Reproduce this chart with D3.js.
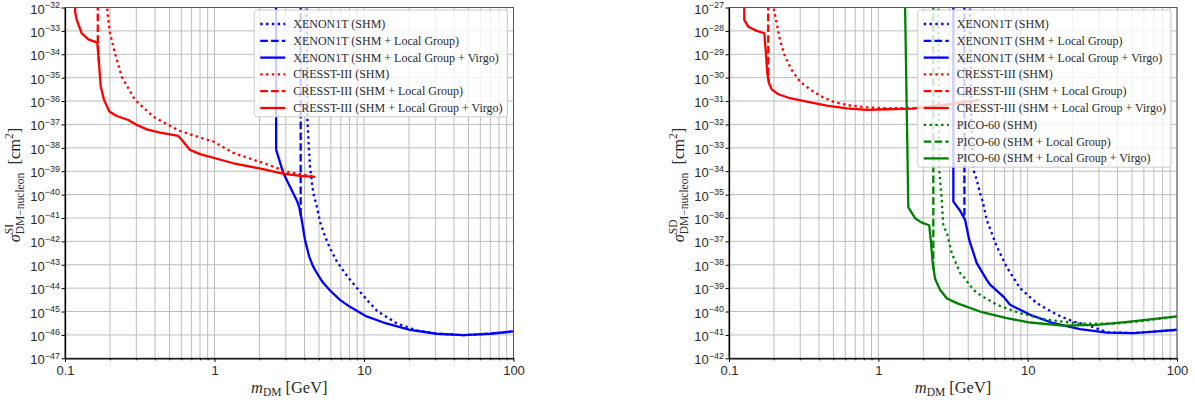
<!DOCTYPE html>
<html>
<head>
<meta charset="utf-8">
<script src="https://cdnjs.cloudflare.com/ajax/libs/d3/7.8.5/d3.min.js"></script>
<style>
  html, body { margin: 0; padding: 0; background: #fff; }
  svg { display: block; font-family: "Liberation Serif", "Times New Roman", serif; }
</style>
</head>
<body>
<svg id="chart" width="1195" height="403"></svg>
<script>
// every curve: [mass in GeV, log10(cross section / cm^2)]

// spin-independent panel
const xenonSI_shm = [[4.14, -31.8], [4.18, -36.81], [4.35, -38.8], [4.58, -39.94], [4.83, -40.5],
  [5.1, -41.2], [5.5, -41.8], [5.93, -42.3], [6.57, -42.85], [7.27, -43.25], [7.85, -43.55],
  [9.4, -44.15], [10.8, -44.6], [12.2, -44.97], [16.5, -45.5], [22.5, -45.81], [30.6, -45.95],
  [46.2, -46.01], [69.6, -45.95], [100, -45.85]];
const xenonSI_lg = [[3.77, -31.8], [3.77, -40.9]];
const xenonSI_virgo = [[2.58, -31.8], [2.585, -38.09], [2.89, -39.09], [3.2, -39.66], [3.58, -40.3],
  [3.69, -40.55], [3.8, -40.95], [3.95, -41.6], [4.03, -41.94], [4.3, -42.65], [4.55, -43.05],
  [4.83, -43.35], [5.3, -43.75], [5.93, -44.1], [6.9, -44.5], [8.06, -44.8], [10.4, -45.21],
  [13.5, -45.47], [20.3, -45.78], [30.6, -45.95], [46.2, -46.01], [69.6, -45.95], [100, -45.85]];

const cresstSI_shm = [[0.1915, -31.8], [0.1919, -32.18], [0.2, -33.1], [0.216, -33.96], [0.2395, -34.96],
  [0.2939, -35.95], [0.3896, -36.67], [0.5039, -37.06], [0.5875, -37.28], [0.7998, -37.56],
  [0.9817, -37.73], [1.336, -38.22], [2.234, -38.7], [3.04, -39.02], [4.35, -39.2], [4.7, -39.23]];
const cresstSI_lg = [[0.1655, -31.8], [0.1658, -33.5], [0.1675, -34.0], [0.1688, -34.37]];
const cresstSI_virgo = [[0.1166, -31.8], [0.117, -32.2], [0.1198, -32.53], [0.1293, -33.1],
  [0.1432, -33.36], [0.1644, -33.5], [0.1688, -34.37], [0.1733, -35.38], [0.1824, -35.95],
  [0.1979, -36.45], [0.2217, -36.64], [0.2651, -36.81], [0.3017, -37.02], [0.3521, -37.21],
  [0.432, -37.35], [0.5727, -37.49], [0.6034, -37.66], [0.6857, -38.09], [0.7998, -38.27],
  [1.336, -38.66], [2.0, -38.88], [2.87, -39.1], [3.73, -39.2], [4.7, -39.24]];

// spin-dependent panel
const xenonSD_shm = [[4.11, -26.8], [4.2, -32.0], [4.33, -33.94], [4.56, -34.37], [4.8, -34.94],
  [5.0, -35.3], [5.32, -36.08], [6.21, -37.22], [7.24, -38.1], [8.89, -39.0], [11.5, -39.64],
  [15.7, -40.14], [20.2, -40.43], [24.9, -40.57], [33.9, -40.88], [51.1, -40.92], [73.3, -40.85],
  [100, -40.78]];
const xenonSD_lg = [[3.77, -26.8], [3.77, -35.94]];
const xenonSD_virgo = [[3.18, -26.8], [3.18, -35.3], [3.53, -35.69], [3.81, -36.08], [4.06, -36.94],
  [4.56, -37.93], [5.32, -38.65], [5.6, -38.85], [6.87, -39.36], [7.62, -39.71], [10.4, -40.14],
  [14.9, -40.5], [22.4, -40.75], [33.9, -40.9], [51.1, -40.92], [73.3, -40.85], [100, -40.78]];

const cresstSD_shm = [[0.1995, -26.8], [0.2001, -27.1], [0.2087, -27.68], [0.2195, -28.39],
  [0.2372, -29.1], [0.263, -29.67], [0.299, -30.17], [0.3487, -30.5], [0.4178, -30.81],
  [0.4996, -31.03], [0.614, -31.17], [0.836, -31.27], [1.138, -31.31], [1.7, -31.3], [3.0, -31.12],
  [4.8, -30.95]];
const cresstSD_lg = [[0.183, -26.8], [0.1833, -29.9], [0.1853, -30.24]];
const cresstSD_virgo = [[0.1266, -26.8], [0.1266, -27.53], [0.1347, -27.82], [0.1533, -28.0],
  [0.1723, -28.1], [0.1761, -28.82], [0.1805, -29.81], [0.1853, -30.24], [0.1932, -30.5],
  [0.2138, -30.71], [0.2563, -30.88], [0.3315, -31.03], [0.4513, -31.2], [0.6143, -31.31],
  [0.8363, -31.38], [1.138, -31.35], [1.7, -31.32], [3.0, -31.14], [4.8, -30.95]];

const picoSD_shm = [[2.52, -26.8], [2.562, -34.0], [2.658, -35.23], [2.725, -36.37], [2.871, -36.6],
  [3.1, -37.5], [3.53, -38.36], [3.71, -38.5], [4.33, -39.07], [4.8, -39.29], [6.21, -39.71],
  [8.89, -40.07], [13.4, -40.35], [22.4, -40.52], [37.5, -40.52], [62.8, -40.38], [100, -40.21]];
const picoSD_lg = [[2.335, -26.8], [2.335, -38.2]];
const picoSD_virgo = [[1.509, -26.8], [1.588, -35.55], [1.762, -36.01], [1.953, -36.2], [2.19, -36.31],
  [2.244, -36.94], [2.313, -37.93], [2.398, -38.6], [2.589, -39.07], [2.871, -39.43], [3.35, -39.64],
  [4.8, -40.0], [7.24, -40.28], [10.4, -40.47], [17.3, -40.6], [29.0, -40.57], [48.5, -40.43],
  [100, -40.21]];

const massDomain = [0.1, 100];
const massTicks = [0.1, 1, 10, 100];
const massTickLabels = ["0.1", "1", "10", "100"];
const siExponents = d3.range(-47, -31);   // 1e-47 ... 1e-32
const sdExponents = d3.range(-42, -26);   // 1e-42 ... 1e-27

const siLegend = ["XENON1T (SHM)", "XENON1T (SHM + Local Group)", "XENON1T (SHM + Local Group + Virgo)",
  "CRESST-III (SHM)", "CRESST-III (SHM + Local Group)", "CRESST-III (SHM + Local Group + Virgo)"];
const sdLegend = siLegend.concat(["PICO-60 (SHM)", "PICO-60 (SHM + Local Group)",
  "PICO-60 (SHM + Local Group + Virgo)"]);

// styles
const dotted = "2.4,3.4";
const dashed = "7.6,3.2";
const lw = 2.3;
const textColor = "#2a2a2a";
const gridColor = "#bcbcbc";

const svg = d3.select("#chart");

const siSeries = [
  { data: xenonSI_shm, color: "#0000ff", dash: dotted },
  { data: xenonSI_lg, color: "#0000ff", dash: dashed },
  { data: xenonSI_virgo, color: "#0000ff", dash: null },
  { data: cresstSI_shm, color: "#ff0000", dash: dotted },
  { data: cresstSI_lg, color: "#ff0000", dash: dashed },
  { data: cresstSI_virgo, color: "#ff0000", dash: null }
];
const sdSeries = [
  { data: xenonSD_shm, color: "#0000ff", dash: dotted },
  { data: xenonSD_lg, color: "#0000ff", dash: dashed },
  { data: xenonSD_virgo, color: "#0000ff", dash: null },
  { data: cresstSD_shm, color: "#ff0000", dash: dotted },
  { data: cresstSD_lg, color: "#ff0000", dash: dashed },
  { data: cresstSD_virgo, color: "#ff0000", dash: null },
  { data: picoSD_shm, color: "#008000", dash: dotted },
  { data: picoSD_lg, color: "#008000", dash: dashed },
  { data: picoSD_virgo, color: "#008000", dash: null }
];

// lays out a row of text runs (supports stacked sup/sub), centred on 0
const layoutRuns = function(g, runs, fontSize) {
  let cx = 0;
  const nodes = [];
  runs.forEach(r => {
    if (r.stack) {
      let w = 0;
      r.stack.forEach(s => {
        const t = g.append("text").attr("x", cx).attr("y", s.off)
          .attr("font-size", s.size).attr("fill", textColor).text(s.t);
        w = Math.max(w, t.node().getComputedTextLength());
        nodes.push(t);
      });
      cx += w;
    } else {
      const t = g.append("text").attr("x", cx).attr("y", r.off || 0)
        .attr("font-size", r.size || fontSize).attr("fill", textColor)
        .attr("font-style", r.italic ? "italic" : null).text(r.t);
      cx += t.node().getComputedTextLength() + (r.pad || 0);
      nodes.push(t);
    }
  });
  nodes.forEach(t => t.attr("x", +t.attr("x") - cx / 2));
  return cx;
};

const drawPanel = function(p) {
  const x = d3.scaleLog().domain(massDomain).range([p.left, p.right]);
  const exps = p.exponents;
  const y = d3.scaleLog()
    .domain([Math.pow(10, exps[0]), Math.pow(10, exps[exps.length - 1])])
    .range([p.bottom, p.top]);

  const minorTicks = [];
  [0.1, 1, 10].forEach(dec => d3.range(2, 10).forEach(k => minorTicks.push(dec * k)));
  const yTicks = exps.map(e => Math.pow(10, e));

  const panel = svg.append("g").attr("class", p.name);

  // grid
  const grid = panel.append("g").attr("class", "grid")
    .attr("stroke", gridColor).attr("stroke-width", 1);
  grid.selectAll(".vx").data(massTicks.concat(minorTicks)).join("line")
    .attr("x1", d => x(d)).attr("x2", d => x(d))
    .attr("y1", p.top).attr("y2", p.bottom);
  grid.selectAll(".hy").data(yTicks).join("line")
    .attr("x1", p.left).attr("x2", p.right)
    .attr("y1", d => y(d)).attr("y2", d => y(d));

  // curves
  const clipId = "clip-" + p.name;
  panel.append("clipPath").attr("id", clipId).append("rect")
    .attr("x", p.left).attr("y", p.top)
    .attr("width", p.right - p.left).attr("height", p.bottom - p.top);

  const line = d3.line()
    .x(d => x(d[0]))
    .y(d => y(Math.pow(10, d[1])));

  panel.append("g").attr("clip-path", `url(#${clipId})`)
    .selectAll("path").data(p.series).join("path")
    .attr("d", s => line(s.data))
    .attr("fill", "none")
    .attr("stroke", s => s.color)
    .attr("stroke-width", lw)
    .attr("stroke-dasharray", s => s.dash)
    .attr("stroke-linejoin", "round");

  // legend
  const legend = panel.append("g").attr("class", "legend");
  const box = legend.append("rect");
  const rowStep = 16.8;
  const rowTop = p.top + 16.5;
  let maxW = 0;
  p.legend.forEach((label, i) => {
    const s = p.series[i];
    const yy = rowTop + i * rowStep;
    legend.append("line")
      .attr("x1", 0).attr("x2", 25).attr("y1", yy).attr("y2", yy)
      .attr("stroke", s.color).attr("stroke-width", lw)
      .attr("stroke-dasharray", s.dash);
    const t = legend.append("text")
      .attr("x", 33).attr("y", yy + 4)
      .attr("font-size", 12).attr("fill", textColor).text(label);
    maxW = Math.max(maxW, t.node().getComputedTextLength());
  });
  const boxW = 33 + maxW + 11;
  const boxX = p.right - 6 - boxW;
  const boxY = p.top + 2.5;
  const boxH = rowStep * p.legend.length + 6;
  legend.selectAll("line, text").attr("transform", `translate(${boxX + 6},0)`);
  box.attr("x", boxX).attr("y", boxY).attr("width", boxW).attr("height", boxH)
    .attr("rx", 2.5).attr("fill", "#fff").attr("fill-opacity", 0.8)
    .attr("stroke", "#cccccc").attr("stroke-width", 1);

  // frame
  panel.append("rect")
    .attr("x", p.left).attr("y", p.top)
    .attr("width", p.right - p.left).attr("height", p.bottom - p.top)
    .attr("fill", "none").attr("stroke", "#555").attr("stroke-width", 1);

  // x axis (major + minor)
  const xAxis = panel.append("g")
    .attr("transform", `translate(0,${p.bottom})`)
    .call(d3.axisBottom(x).tickValues(massTicks).tickSize(3.5).tickSizeOuter(0)
      .tickFormat((d, i) => massTickLabels[i]));
  panel.append("g")
    .attr("transform", `translate(0,${p.bottom})`)
    .call(d3.axisBottom(x).tickValues(minorTicks).tickSize(2).tickSizeOuter(0).tickFormat(""))
    .call(g => g.select(".domain").remove());
  xAxis.selectAll(".tick text")
    .attr("y", 16.5).attr("dy", 0)
    .attr("font-size", 13).attr("font-family", null).attr("fill", textColor);
  xAxis.select(".domain").attr("stroke", "#000").attr("stroke-width", 1.3);

  // y axis
  const yAxis = panel.append("g")
    .attr("transform", `translate(${p.left},0)`)
    .call(d3.axisLeft(y).tickValues(yTicks).tickSize(3.5).tickSizeOuter(0).tickFormat(""));
  yAxis.select(".domain").attr("stroke", "#000").attr("stroke-width", 1.3);
  yAxis.selectAll(".tick").each(function(d) {
    const e = Math.round(Math.log10(d));
    const t = d3.select(this).select("text")
      .attr("x", -5).attr("y", 5.5).attr("dy", 0)
      .attr("text-anchor", "end").attr("font-family", null)
      .attr("fill", textColor).attr("font-size", 13);
    t.text(null);
    t.append("tspan").text("10");
    t.append("tspan").attr("dy", -5.5).attr("font-size", 9).text("\u2212" + Math.abs(e));
  });

  // x label
  const xl = panel.append("g")
    .attr("transform", `translate(${(p.left + p.right) / 2},393)`);
  layoutRuns(xl, [
    { t: "m", italic: true, size: 16.5 },
    { t: "DM", size: 11.5, off: 3, pad: 4 },
    { t: "[GeV]", size: 16.5 }
  ], 16.5);

  // y label
  const yl = panel.append("g")
    .attr("transform", `translate(${p.left - 45},185) rotate(-90)`);
  layoutRuns(yl, [
    { t: "\u03c3", italic: true, size: 16.5 },
    { stack: [{ t: p.sup, size: 11.5, off: -7 }, { t: "DM\u2212nucleon", size: 11.5, off: 3.5 }] },
    { t: "\u2002[cm", size: 16.5 },
    { t: "2", size: 11.5, off: -7 },
    { t: "]", size: 16.5 }
  ], 16.5);
};

const main = function() {
  drawPanel({ name: "si", left: 65, right: 513.5, top: 7.5, bottom: 358.3,
    exponents: siExponents, series: siSeries, legend: siLegend, sup: "SI" });
  drawPanel({ name: "sd", left: 729, right: 1177, top: 7.5, bottom: 358.3,
    exponents: sdExponents, series: sdSeries, legend: sdLegend, sup: "SD" });
};

main();
</script>
</body>
</html>
